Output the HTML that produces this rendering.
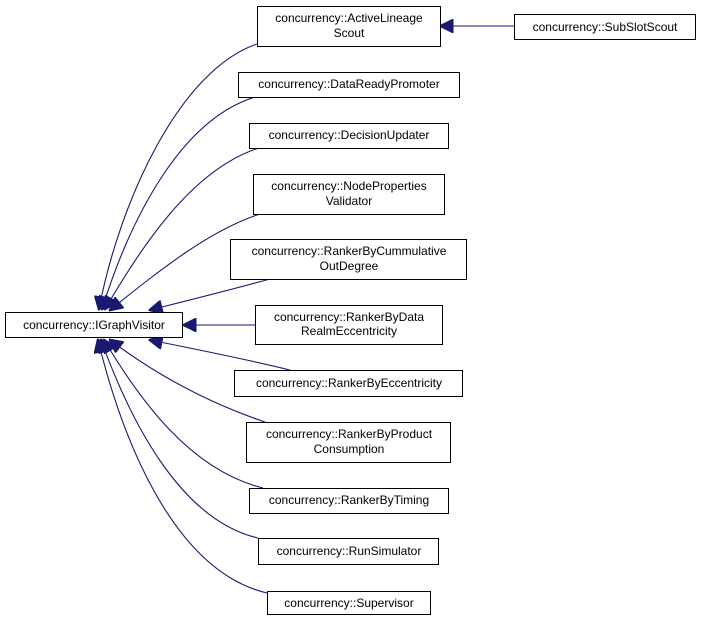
<!DOCTYPE html>
<html><head><meta charset="utf-8"><style>
html,body{margin:0;padding:0;background:#fff;}
svg{display:block;}
text{font-family:"Liberation Sans",Arial,sans-serif;font-size:12px;fill:#000;}
</style></head><body>
<svg width="701" height="621" viewBox="0 0 701 621" xmlns="http://www.w3.org/2000/svg">
<defs>
<marker id="a" viewBox="0 0 10 10" refX="9" refY="5" markerWidth="14" markerHeight="14" markerUnits="userSpaceOnUse" orient="auto">
<path d="M0,0 L10,5 L0,10 z" fill="#191970" stroke="#191970"/>
</marker>
</defs>
<g fill="none" stroke="#191970" stroke-width="1.1">
<path d="M257,44 C180,70 120,200 99,309" marker-end="url(#a)"/>
<path d="M255,97 C180,120 130,220 102,309" marker-end="url(#a)"/>
<path d="M259,148 C190,170 140,250 105,309" marker-end="url(#a)"/>
<path d="M260,214 C210,230 160,270 110,310" marker-end="url(#a)"/>
<path d="M270,279 C230,290 190,300 150,310" marker-end="url(#a)"/>
<path d="M255,325 L184,325" marker-end="url(#a)"/>
<path d="M290,370 C250,360 200,350 150,340" marker-end="url(#a)"/>
<path d="M265,422 C200,400 150,370 110,340" marker-end="url(#a)"/>
<path d="M263,488 C190,470 140,400 104,340" marker-end="url(#a)"/>
<path d="M258,538 C180,520 130,420 101,340" marker-end="url(#a)"/>
<path d="M267,593 C170,570 120,430 98,340" marker-end="url(#a)"/>
<path d="M514,26 L441,26" marker-end="url(#a)"/>
</g>
<g fill="#fff" stroke="#000" stroke-width="1">
<rect x="5.5" y="312.5" width="177" height="25"/>
<rect x="257.5" y="6.5" width="183" height="40"/>
<rect x="514.5" y="14.5" width="181" height="25"/>
<rect x="238.5" y="72.5" width="221" height="25"/>
<rect x="249.5" y="123.5" width="199" height="25"/>
<rect x="253.5" y="174.5" width="191" height="40"/>
<rect x="230.5" y="239.5" width="236" height="40"/>
<rect x="255.5" y="305.5" width="187" height="39"/>
<rect x="234.5" y="370.5" width="228" height="26"/>
<rect x="246.5" y="422.5" width="204" height="40"/>
<rect x="249.5" y="488.5" width="199" height="25"/>
<rect x="258.5" y="538.5" width="180" height="26"/>
<rect x="267.5" y="591.5" width="163" height="23"/>
</g>
<g text-anchor="middle">
<text x="94" y="329">concurrency::IGraphVisitor</text>
<text x="349" y="22">concurrency::ActiveLineage</text>
<text x="349" y="37">Scout</text>
<text x="605" y="31">concurrency::SubSlotScout</text>
<text x="349" y="88">concurrency::DataReadyPromoter</text>
<text x="349" y="139">concurrency::DecisionUpdater</text>
<text x="349" y="190">concurrency::NodeProperties</text>
<text x="349" y="205">Validator</text>
<text x="349" y="255">concurrency::RankerByCummulative</text>
<text x="349" y="270">OutDegree</text>
<text x="349" y="321">concurrency::RankerByData</text>
<text x="349" y="335">RealmEccentricity</text>
<text x="349" y="387">concurrency::RankerByEccentricity</text>
<text x="349" y="438">concurrency::RankerByProduct</text>
<text x="349" y="453">Consumption</text>
<text x="349" y="504">concurrency::RankerByTiming</text>
<text x="349" y="555">concurrency::RunSimulator</text>
<text x="349" y="607">concurrency::Supervisor</text>
</g>
</svg>
</body></html>
